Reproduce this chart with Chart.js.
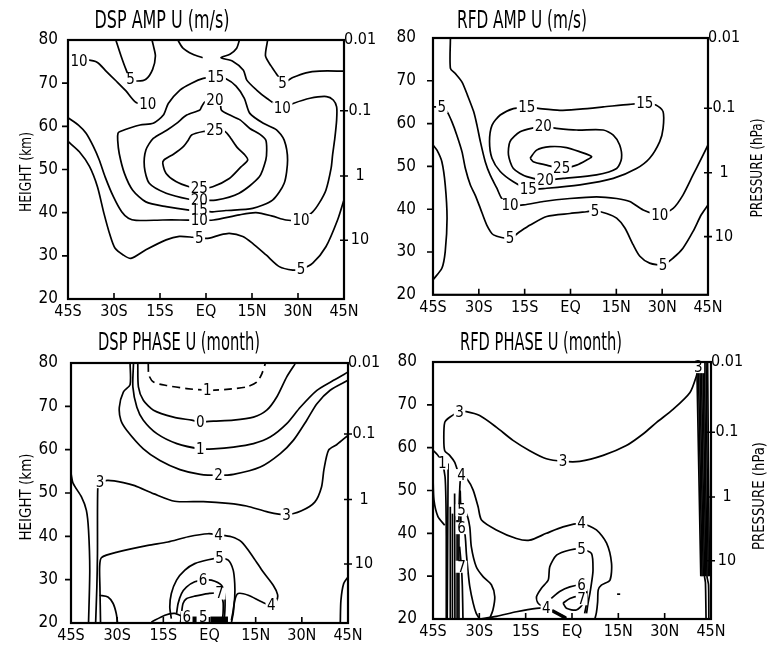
<!DOCTYPE html>
<html>
<head>
<meta charset="utf-8">
<script src="https://cdn.jsdelivr.net/npm/chart.js@4.4.0/dist/chart.umd.min.js"></script>
<style>
    html, body { margin: 0; padding: 0; background: #fff; }
    #wrap { position: relative; width: 769px; height: 649px; }
    canvas { position: absolute; }
</style>
</head>
<body>
<div id="wrap">
    <canvas id="dspAmp" width="385" height="322" style="left:0px;top:0px"></canvas>
    <canvas id="rfdAmp" width="384" height="322" style="left:385px;top:0px"></canvas>
    <canvas id="dspPhase" width="385" height="327" style="left:0px;top:322px"></canvas>
    <canvas id="rfdPhase" width="384" height="327" style="left:385px;top:322px"></canvas>
</div>
<script>
const FONT = "'Liberation Sans Narrow', 'DejaVu Sans Condensed', 'Arial Narrow', sans-serif";

// axes
const latTicks = [-45, -30, -15, 0, 15, 30, 45];
const latLabels = ['45S', '30S', '15S', 'EQ', '15N', '30N', '45N'];
const heightTicks = [20, 30, 40, 50, 60, 70, 80];
const presHeights = [80, 63.6, 48.5, 33.6];
const presLabels = ['0.01', '0.1', '1', '10'];

// DSP AMP U (m/s) contours, [lat, km]
const dspAmp10a = [[-44.6,75.2],[-41.4,75.2],[-38.6,75.4],[-35.4,74.8],[-32.6,72.8],[-29.3,70.5],[-26.1,68.2],[-22.8,65.5],[-19,65.1]];
const dspAmp5a = [[-29.4,80],[-27.7,76.3],[-26.1,73.2],[-24.6,70.9],[-22.3,70.5],[-19.6,70.9],[-17.4,73.2],[-16.5,76.3],[-17.2,78.8],[-17.6,80]];
const dspAmp5b = [[20.1,80],[19.4,76.3],[21.2,74],[23.4,71.7],[25,70.1],[28.3,71.3],[32.6,72.4],[37,72.8],[45,72.8]];
const dspAmpCusp = [[-9.2,80],[-7.6,78.2],[-4.3,76.7],[-1.1,75.9]];
const dspAmp10b = [[10.9,80],[10,78.1],[7.8,76.7],[4.9,75.9],[8.7,75.1],[12.2,73],[13.3,70.7],[16.5,68.4],[19.8,66.5],[24.9,64.2],[28.4,65.3],[33.9,66.5],[39.3,66.9],[41.5,66.1],[42.6,64.5],[42.6,61.5],[42,57.2],[41.3,53.5],[40.8,50.3],[39.1,45.2],[36.9,42.2],[34.8,40.2],[31,38.3],[26.1,38.3],[21.7,39.2],[16.3,40],[10.9,39.5],[2.4,38.3],[-2.2,38.2],[-8.5,38.3],[-14.1,38.3],[-22.8,38.2],[-25.3,38.7],[-27.5,40.2],[-30.2,43.7],[-32.9,48.3],[-34.8,52.2],[-36.7,55.3],[-39.1,58.4],[-41.6,60.3],[-45,62]];
const dspAmp5c = [[-45,56.5],[-41.3,54.1],[-38,50.7],[-35.4,46],[-33.3,39.9],[-31.3,34.8],[-29.7,31.8],[-27,30.2],[-24.5,29.4],[-19.6,31.4],[-13,33.7],[-8.7,34.5],[-4.3,34.3],[-2.2,34.1],[1.1,34.1],[4.4,34.8],[7.6,35.2],[12,34.5],[15.2,32.9],[19.6,30.2],[23.9,27.5],[28.3,26.7],[31,26.9],[34.8,28.3],[39.1,32.1],[42.9,38.3],[45,43]];
const dspAmp15 = [[3.2,71.5],[6.5,71],[9.8,69.3],[12.5,66.5],[14.3,63],[18.7,60.7],[23,59.2],[25.5,56.8],[26.6,52.2],[25.5,46.8],[21.7,42.9],[15.2,41],[6.5,40.5],[2.2,40.2],[-2.2,40.5],[-5.5,40.6],[-13,41.4],[-19.6,42.5],[-23.9,45.2],[-26.6,49.1],[-28.3,53.7],[-28.8,56.8],[-28.7,58.4],[-28,58.8],[-21.5,60.3],[-17.2,60.7],[-13.9,62.6],[-12.3,65.3],[-8.5,68.4],[-4.7,70],[-0.9,71.1],[3.2,71.5]];
const dspAmp20 = [[2.9,66.1],[4.6,65.7],[5,63.8],[7.8,62.6],[11.1,61.5],[14.3,59.5],[17.5,58.2],[19.5,56.8],[19.8,54.5],[19.5,52.2],[17.4,48.3],[10.8,44.5],[3.2,42.9],[-2.2,42.9],[-5.5,43.1],[-13,44.5],[-18.5,46.8],[-20.1,50.6],[-19.6,54.5],[-17.2,57.2],[-12.8,59.1],[-9.6,60.7],[-6.3,62.6],[-2,63.8],[-1.4,64.6],[-0.3,65.7],[2.9,66.1]];
const dspAmp25 = [[2.9,59.1],[6.2,58.8],[8,57.3],[10.3,55],[12.5,53.5],[13.6,52.2],[11.4,50.6],[7.6,47.9],[2.2,46],[-2.2,45.6],[-5.5,46],[-9.8,47.2],[-13,49.1],[-14.1,51.4],[-13.7,52.2],[-10.5,53.6],[-7.4,55.3],[-5.8,56.8],[-4.7,58],[-0.9,58.8],[2.9,59.1]];
const dspAmpLabels = [[-41.4,75.2,'10'],[-19,65.1,'10'],[-24.6,70.9,'5'],[25,70.1,'5'],[3.2,71.5,'15'],[2.9,66.1,'20'],[2.9,59.1,'25'],[-2.2,45.6,'25'],[-2.2,42.9,'20'],[-2.2,40.5,'15'],[-2.2,38.2,'10'],[24.9,64.2,'10'],[31,38.3,'10'],[-2.2,34.1,'5'],[31,26.9,'5']];

// RFD AMP U (m/s) contours
const rfdAmp5 = [[-45,63.9],[-42.1,63.9],[-40.4,62.8],[-38.8,60.4],[-37.2,57.3],[-35.5,53.4],[-34.4,49.5],[-32.8,45.7],[-31.2,43.3],[-29.5,40.2],[-27.4,36.3],[-25.2,34],[-19.8,33.2],[-16.5,34.8],[-13.2,36.3],[-7.8,38.3],[-0.2,39],[5.2,39.4],[8,39.6],[11.8,39],[15.1,37.9],[17.8,35.6],[20.5,31.7],[22.7,29],[25.9,27.4],[30.3,27],[33.6,28.6],[36.8,30.9],[40.1,34.8],[42.8,38.7],[45,41]];
const rfdAmp10 = [[-39.3,80],[-39.3,72.9],[-37.7,71.7],[-35.5,69.7],[-33.7,66.6],[-31.7,62.8],[-30.6,59.6],[-29.5,55.8],[-27.9,51.1],[-26.3,48],[-24.1,44.9],[-22.5,42.5],[-19.8,41],[-15.4,41],[-8.9,41.8],[-0.2,42.5],[8.5,42.9],[15.1,42.5],[19.4,41.8],[23.8,39.8],[29.2,38.7],[33.6,40.2],[36.8,43.3],[40.1,48],[42.3,51.1],[45,55]];
const rfdAmp15 = [[-14.3,63.9],[-10,63.5],[-3.5,63.1],[3.1,63.4],[10.7,63.9],[19.4,64.5],[24.3,64.7],[28.1,64.3],[30.3,62.8],[30.3,58.9],[29.2,55.8],[25.9,51.9],[21.6,49.5],[14,47.2],[3.1,45.7],[-7.8,44.9],[-13.8,44.7],[-18.7,46.4],[-23,48.8],[-25.7,51.9],[-26.5,55.8],[-25.7,59.6],[-23,62],[-18.7,63.5],[-14.3,63.9]];
const rfdAmp20 = [[-8.9,59.3],[-4.6,58.9],[2,58.5],[10.7,58.5],[14,57.3],[16.1,55],[16.7,51.9],[15.1,49.5],[8.5,48],[-2.4,47.2],[-8.3,46.8],[-14.3,47.6],[-18.7,49.5],[-20.3,52.7],[-19.8,55.8],[-16.5,58.1],[-12.2,59],[-8.9,59.3]];
const rfdAmp25 = [[-13.2,51.9],[-11.1,53.8],[-6.7,54.6],[-1.3,54.4],[3.1,53.4],[6.9,52.3],[5.3,51.5],[2,50.3],[-2.9,49.5],[-7.8,50.3],[-12.2,51.1],[-13.2,51.9]];
const rfdAmpEdge = [[-45,55],[-43.7,53.8],[-42.1,51.1],[-41,45.7],[-40.4,37.9],[-41,30.1],[-42.1,26.2],[-45,23.5]];
const rfdAmpLabels = [[-42.1,63.9,'5'],[-14.3,63.9,'15'],[24.3,64.7,'15'],[-8.9,59.3,'20'],[-2.9,49.5,'25'],[-8.3,46.8,'20'],[-13.8,44.7,'15'],[-19.8,41,'10'],[-19.8,33.2,'5'],[8,39.6,'5'],[29.2,38.7,'10'],[30.3,27,'5']];

// DSP PHASE U (month) contours
const dspPhaseM1 = [[-19.9,79.8],[-19.7,77.2],[-18.2,75.6],[-13.9,74.8],[-7.4,74.1],[-0.7,73.7],[5.6,73.9],[12.1,74.5],[15.4,75.6],[17,77.5],[18.1,79.8]];
const dspPhase0 = [[-23.3,79.8],[-23.1,74.5],[-21.5,71.4],[-18.2,69.1],[-11.7,67.5],[-5.8,66.8],[-3,66.4],[1.3,66.6],[7.8,66.8],[14.3,67.5],[18.6,69.1],[21.9,72.2],[25.1,76.8],[27.8,79.8]];
const dspPhase1 = [[-24.7,79.8],[-24.9,74.5],[-23.6,69.8],[-21.5,66.8],[-17.1,63.7],[-10.6,61.4],[-3,60.2],[1.3,60.2],[7.8,60.6],[14.3,61.4],[19.7,62.9],[25.1,66],[29.5,69.8],[34.9,73.7],[40.3,76],[45,77.9]];
const dspPhase2 = [[-25.8,79.8],[-25.8,75],[-28,73.3],[-29.3,69.8],[-28.8,66.8],[-26.9,64.5],[-21.5,60.2],[-16.1,57.5],[-9.6,55.4],[-3,54.3],[2.9,54.1],[7.8,54.3],[16.5,56],[23,59.1],[27.3,62.2],[31.6,66.8],[34.9,70.6],[39.2,73.7],[45,76]];
const dspPhase3 = [[-35.6,52.5],[-33,52.9],[-28,52.4],[-24.3,51.7],[-18,49.8],[-11.3,48.1],[-2,48],[6.1,47.6],[12,47],[19.1,45.6],[25,45],[29.9,45.9],[34.2,47.9],[36.4,51.4],[37.2,55.5],[38.7,59.9],[41.4,61.2],[45,63.3]];
const dspPhase3v = [[-35.6,52.5],[-36.3,51.2],[-36.4,36],[-36.6,28.3],[-37,20]];
const dspPhaseEdge = [[-45,54.5],[-44.3,52.2],[-41.6,49.1],[-40,46],[-39.3,41.4],[-38.9,32.2],[-39.3,20]];
const dspPhase4 = [[-35.4,20],[-35.6,28.3],[-35.7,32.9],[-35.1,35.1],[-29.7,36.4],[-20,37.9],[-13.5,38.7],[-6.9,39.9],[-0.4,40.6],[2.9,40.3],[7.1,39.9],[10.4,38.7],[14.2,35.2],[17.4,31.8],[20.7,28.7],[22.1,26.6],[21.8,25.2],[20.1,24.1],[16.9,24.9],[12.6,26.4],[9.3,26.8],[8.2,25.2],[7.7,22.2],[7.1,20]];
const dspPhase5 = [[-12.4,21],[-12.9,23.7],[-12.4,26.8],[-10.7,29.9],[-8,32.2],[-4.8,33.7],[-0.4,34.6],[3.3,34.9],[6.1,34.5],[7.7,32.2],[8.2,29.1],[8.2,26],[7.7,22.9],[7.1,20.6]];
const dspPhase6 = [[-10.7,22.2],[-10.2,24.5],[-9.1,26.8],[-7.5,28.3],[-4.8,29.5],[-2.1,29.9],[0.6,29.9],[3.9,28.7],[5,26],[5,22.9],[4.8,21]];
const dspPhase7 = [[-9.4,20.2],[-9.1,22.2],[-8.6,24.5],[-7.5,25.6],[-4.8,26.2],[-0.4,26.8],[3.3,26.8],[4.4,24.9],[4.4,22.2],[4.1,20.2]];
const dspPhaseLow = [[-18.9,20.2],[-14.5,21.8],[-11.3,22.2],[-8.6,21.4]];
const dspPhaseLoop = [[-35.7,26.4],[-33,26],[-31.3,24.5],[-30.3,22.2],[-29.9,20.2]];
const dspPhaseBlobA = [[-5.8,20.8],[-4.2,20.8]];
const dspPhaseBlobB = [[0.3,20.8],[6,20.8]];
const dspPhaseRight = [[45,30.6],[43.6,29.1],[42.7,25.2],[42.5,20.2]];
const dspPhaseLabels = [[-0.7,73.7,'1'],[-3,66.4,'0'],[-3,60.2,'1'],[2.9,54.1,'2'],[-35.6,52.5,'3'],[25,45,'3'],[2.9,40.3,'4'],[3.3,34.9,'5'],[-2.1,29.9,'6'],[3.3,26.8,'7'],[20.1,24.1,'4'],[-7.4,21.4,'6'],[-2,21.4,'5']];

// RFD PHASE U (month) contours
const rfdPhase3 = [[40.9,78.8],[40.3,76.8],[38.2,72.9],[32.8,69],[27.4,65.9],[23,63.2],[17.6,60.5],[10.1,58.2],[2.5,56.8],[-2.9,56.8],[-8.3,57.4],[-13.7,59.3],[-19.1,61.7],[-24.5,64.8],[-29.9,67.5],[-34.2,68.4],[-36.4,68.4],[-39.6,67.1],[-41.2,65.9],[-41.5,62.1],[-41.2,59.3],[-39.6,58.2],[-38,56.6],[-36.9,54.3]];
const rfdPhase1 = [[-45,59.4],[-43.4,58.2],[-42,56.3],[-41.1,53.2],[-40.8,47],[-40.7,39.2],[-40.7,20]];
const rfdPhaseEdge = [[-45,53.2],[-44.7,47.8],[-43.4,43.9],[-41.2,41.9]];
const rfdPhase4 = [[-36.6,20],[-36.6,43.1],[-36.3,50.9],[-35.8,53.6],[-33.7,52.4],[-32,50.1],[-30.4,46.2],[-29.3,43.1],[-24.5,40.8],[-18,38.8],[-13.7,38.4],[-8.3,40],[-2.9,41.5],[3.1,42.3],[7.9,40.8],[11.2,37.7],[12.8,33],[12.3,29.1],[9.5,27.9],[8.5,26.8],[8.3,24],[7.9,21.5],[7.4,20]];
const rfdPhase4b = [[-29.9,20],[-24.5,20.6],[-18,21.7],[-11.5,22.5],[-8.3,22.5],[-6.1,21.7],[-3.4,20.9],[-1.8,20.2]];
const rfdPhase5a = [[-36.2,50],[-35.8,45.4],[-34.2,44.6],[-33.1,41.5],[-32.6,36.9],[-31,32.2],[-28.8,29.9],[-26.1,28],[-25,25.2],[-25.6,22.1],[-26.6,20.2]];
const rfdPhase5b = [[-9.4,22.9],[-11,23.7],[-11.5,25.2],[-9.9,27.2],[-7.7,29.1],[-7.2,32.2],[-5,34.9],[-0.7,36.1],[3.1,36.3],[6.3,35.3],[6.8,31.4],[6.3,28.3],[5.8,26],[5.2,23.7],[4.7,21.3]];
const rfdPhase6a = [[-36,44],[-35.8,41.2],[-34.7,40],[-34.2,35.3],[-33.7,31.4],[-33.1,27.6],[-32,23.7],[-31,21.3],[-29.9,20]];
const rfdPhase6b = [[-6.7,24.8],[-4,26.4],[-0.7,27.5],[3.1,27.9],[4.7,26.8],[4.7,23.7],[4.1,21.3]];
const rfdPhase7a = [[-36.4,36.9],[-35.8,32.2],[-35.5,27.6],[-35.3,20]];
const rfdPhase7b = [[-2.9,23.7],[-0.7,24.8],[2.5,25.2],[3.6,23.7],[1.4,22.1],[-1.8,22.5],[-2.9,23.7]];
const rfdPhaseDiag = [[-6.5,22],[-3.5,20.8],[-2,20.2]];
const rfdPhaseTangle = [
    [[-40.1,56.3],[-40.4,20]],
    [[-39.4,46.2],[-39.4,20]],
    [[-38.7,44.6],[-38.7,20]],
    [[-38,49.3],[-37.9,20]],
    [[-37.2,43.1],[-37.2,20]]
];
const rfdPhaseBand = [
    [[40.4,79.8],[41.7,30]],
    [[40.9,79.8],[42.1,30]],
    [[41.4,79.8],[42.5,30]],
    [[41.9,79.8],[42.9,30],[43.2,28.5],[43.4,20]],
    [[42.4,79.8],[43.3,30]],
    [[42.9,79.8],[43.7,30],[44.2,28],[44.3,20]],
    [[43.4,79.8],[44.1,30]],
    [[43.9,79.8],[44.5,30]]
];
const rfdPhaseDash = [[14.6,25.8],[15.6,25.8]];
const rfdPhaseLabels = [[40.9,78.8,'3'],[-36.4,68.4,'3'],[-2.9,56.8,'3'],[-42,56.3,'1'],[-35.8,53.6,'4'],[-35.8,45.4,'5'],[-35.8,41.2,'6'],[-35.8,32.2,'7'],[3.1,42.3,'4'],[3.1,36.3,'5'],[3.1,27.9,'6'],[3.1,24.6,'7'],[-8.3,22.5,'4']];

function fitText(ctx, text, cx, cy, w, size, rot) {
    ctx.save();
    ctx.font = `${size}px ${FONT}`;
    ctx.textAlign = 'center';
    ctx.textBaseline = 'middle';
    ctx.translate(cx, cy);
    ctx.rotate(rot);
    ctx.scale(w / ctx.measureText(text).width, 1);
    ctx.fillStyle = '#000';
    ctx.fillText(text, 0, 0);
    ctx.restore();
}

function panelDecor(cfg) {
    return {
        id: 'panelDecor',
        afterDatasetsDraw(chart) {
            const { ctx, chartArea: a, scales: { x, y } } = chart;
            ctx.save();
            // contour labels
            ctx.font = `15px ${FONT}`;
            ctx.textAlign = 'center';
            ctx.textBaseline = 'middle';
            cfg.labels.forEach(([lat, h, text]) => {
                const px = x.getPixelForValue(lat);
                const py = y.getPixelForValue(h);
                const w = ctx.measureText(text).width;
                ctx.fillStyle = '#fff';
                ctx.fillRect(px - w / 2 - 1.5, py - 6, w + 3, 12);
                ctx.fillStyle = '#000';
                ctx.fillText(text, px, py + 1);
            });
            // frame and tick marks
            ctx.strokeStyle = '#000';
            ctx.lineWidth = 2.2;
            ctx.strokeRect(a.left, a.top, a.right - a.left, a.bottom - a.top);
            ctx.lineWidth = 1.6;
            ctx.beginPath();
            latTicks.slice(1, -1).forEach(v => {
                const px = x.getPixelForValue(v);
                ctx.moveTo(px, a.bottom);
                ctx.lineTo(px, a.bottom - 6);
            });
            heightTicks.slice(1, -1).forEach(v => {
                const py = y.getPixelForValue(v);
                ctx.moveTo(a.left - 6, py);
                ctx.lineTo(a.left, py);
            });
            presHeights.slice(1).forEach(v => {
                const py = y.getPixelForValue(v);
                ctx.moveTo(a.right - 4, py);
                ctx.lineTo(a.right + 4, py);
            });
            ctx.stroke();
            fitText(ctx, cfg.title, cfg.titleX, 22, cfg.titleW, 24, 0);
            const t = cfg.axisTitle;
            fitText(ctx, t.text, t.x, t.y, t.w, 16, -Math.PI / 2);
            ctx.restore();
        }
    };
}

function tickFont(size) {
    return { family: FONT, size: size };
}

function drawPanel(canvasId, cfg) {
    const ctx = document.getElementById(canvasId).getContext('2d');
    return new Chart(ctx, {
        type: 'scatter',
        data: {
            datasets: cfg.lines.map(l => ({
                data: l.pts.map(([lat, h]) => ({ x: lat, y: h })),
                showLine: true,
                borderColor: '#000',
                borderWidth: l.width || 1.7,
                borderDash: l.dash || [],
                pointRadius: 0,
                pointHoverRadius: 0,
                tension: 0.25,
            })),
        },
        options: {
            responsive: false,
            animation: false,
            events: [],
            layout: { autoPadding: false, padding: { top: cfg.top, left: 0, right: 0, bottom: 0 } },
            plugins: { legend: { display: false }, tooltip: { enabled: false } },
            scales: {
                x: {
                    type: 'linear', min: -45, max: 45,
                    afterBuildTicks: s => { s.ticks = latTicks.map(v => ({ value: v })); },
                    afterFit: s => { s.height = cfg.bottom; },
                    ticks: { autoSkip: false, maxRotation: 0, padding: 3, color: '#000', font: tickFont(16), callback: (v, i) => latLabels[i] },
                    grid: { display: false, drawTicks: false },
                    border: { display: false },
                },
                y: {
                    type: 'linear', position: 'left', min: 20, max: 80,
                    afterBuildTicks: s => { s.ticks = heightTicks.map(v => ({ value: v })); },
                    afterFit: s => { s.width = cfg.left; },
                    ticks: { autoSkip: false, padding: cfg.yPad, color: '#000', font: tickFont(17) },
                    grid: { display: false, drawTicks: false },
                    border: { display: false },
                },
                p: {
                    axis: 'y', type: 'linear', position: 'right', min: 20, max: 80,
                    afterBuildTicks: s => { s.ticks = presHeights.map(v => ({ value: v })); },
                    afterFit: s => { s.width = cfg.right; },
                    ticks: { autoSkip: false, padding: 0, crossAlign: 'center', color: '#000', font: tickFont(16), callback: (v, i) => presLabels[i] },
                    grid: { display: false, drawTicks: false },
                    border: { display: false },
                },
            },
        },
        plugins: [panelDecor(cfg)],
    });
}

drawPanel('dspAmp', {
    lines: [dspAmp10a, dspAmp5a, dspAmp5b, dspAmpCusp, dspAmp10b, dspAmp5c, dspAmp15, dspAmp20, dspAmp25].map(pts => ({ pts })),
    labels: dspAmpLabels,
    title: 'DSP AMP U (m/s)', titleX: 162, titleW: 135,
    axisTitle: { text: 'HEIGHT (km)', x: 27, y: 172, w: 80 },
    top: 40, bottom: 23, left: 68, right: 41, yPad: 10,
});

drawPanel('rfdAmp', {
    lines: [rfdAmp5, rfdAmp10, rfdAmp15, rfdAmp20, rfdAmp25, rfdAmpEdge].map(pts => ({ pts })),
    labels: rfdAmpLabels,
    title: 'RFD AMP U (m/s)', titleX: 137, titleW: 130,
    axisTitle: { text: 'PRESSURE (hPa)', x: 373, y: 168, w: 99 },
    top: 38, bottom: 26, left: 48, right: 61, yPad: 17,
});

drawPanel('dspPhase', {
    lines: [
        { pts: dspPhaseM1, dash: [8, 5] },
        { pts: dspPhase0 }, { pts: dspPhase1 }, { pts: dspPhase2 },
        { pts: dspPhase3 }, { pts: dspPhase3v }, { pts: dspPhaseEdge },
        { pts: dspPhase4 }, { pts: dspPhase5 }, { pts: dspPhase6 }, { pts: dspPhase7 },
        { pts: dspPhaseLow }, { pts: dspPhaseLoop }, { pts: dspPhaseRight },
        { pts: dspPhaseBlobA, width: 6 }, { pts: dspPhaseBlobB, width: 6 },
    ],
    labels: dspPhaseLabels,
    title: 'DSP PHASE U (month)', titleX: 179, titleW: 162,
    axisTitle: { text: 'HEIGHT (km)', x: 27, y: 175, w: 87 },
    top: 41, bottom: 26, left: 71, right: 37, yPad: 13,
});

drawPanel('rfdPhase', {
    lines: [
        { pts: rfdPhase3 }, { pts: rfdPhase1 }, { pts: rfdPhaseEdge }, { pts: rfdPhase4 }, { pts: rfdPhase4b },
        { pts: rfdPhase5a }, { pts: rfdPhase5b }, { pts: rfdPhase6a }, { pts: rfdPhase6b },
        { pts: rfdPhase7a }, { pts: rfdPhase7b }, { pts: rfdPhaseDiag, width: 3.5 }, { pts: rfdPhaseDash },
        ...rfdPhaseTangle.map(pts => ({ pts })),
        ...rfdPhaseBand.map(pts => ({ pts })),
    ],
    labels: rfdPhaseLabels,
    title: 'RFD PHASE U (month)', titleX: 156, titleW: 162,
    axisTitle: { text: 'PRESSURE (hPa)', x: 375, y: 174, w: 108 },
    top: 40, bottom: 30, left: 48, right: 58, yPad: 16,
});
</script>
</body>
</html>
